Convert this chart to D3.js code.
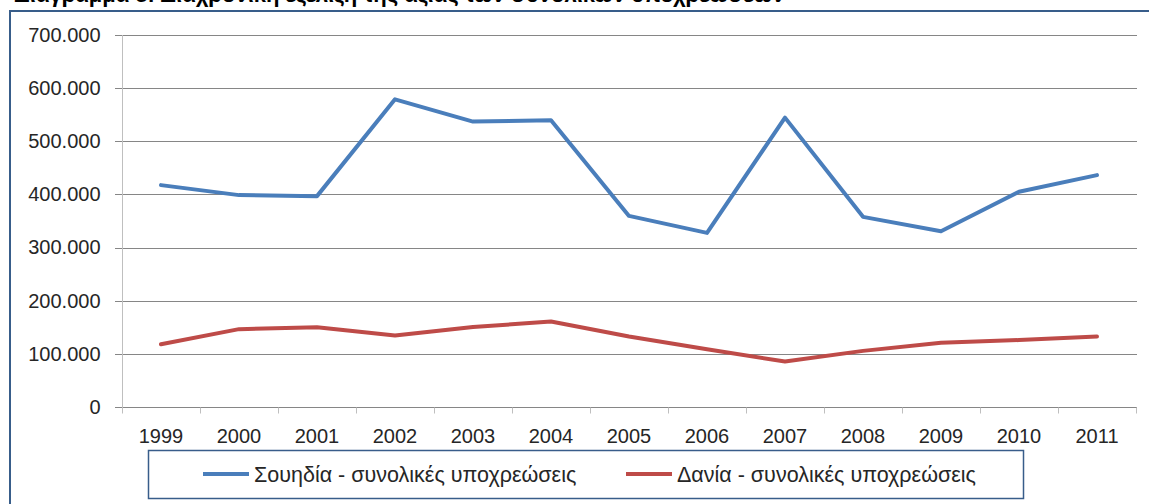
<!DOCTYPE html>
<html>
<head>
<meta charset="utf-8">
<script src="https://cdn.jsdelivr.net/npm/d3@7"></script>
<style>
  body { margin: 0; background: #fff; }
  svg { display: block; font-family: "Liberation Sans", Arial, sans-serif; }
</style>
</head>
<body>
<svg id="chart"></svg>
<script>
var years = ['1999', '2000', '2001', '2002', '2003', '2004', '2005', '2006', '2007', '2008', '2009', '2010', '2011'];
var sweden = [417500, 398700, 396800, 579000, 537000, 539600, 359600, 327600, 544500, 357800, 330700, 404900, 436400];
var denmark = [118000, 146500, 150000, 134500, 150500, 160900, 132500, 108800, 85500, 105600, 121000, 126000, 132600];
var yTicks = [0, 100000, 200000, 300000, 400000, 500000, 600000, 700000];
var seriesNames = ['Σουηδία - συνολικές υποχρεώσεις', 'Δανία - συνολικές υποχρεώσεις'];
var titleText = 'Διάγραμμα 5: Διαχρονική εξέλιξη της αξίας των συνολικών υποχρεώσεων';

var width = 1149, height = 504;
var svg = d3.select('#chart').attr('width', width).attr('height', height);

// title, mostly above the visible area like in the source
svg.append('text')
    .attr('x', 14)
    .attr('y', 2)
    .style('font-size', '22px')
    .style('font-weight', 'bold')
    .attr('fill', '#000')
    .text(titleText);

// chart frame
svg.append('rect')
    .attr('x', 10)
    .attr('y', 11)
    .attr('width', 1160)
    .attr('height', 520)
    .attr('fill', 'none')
    .attr('stroke', '#385D8A')
    .attr('stroke-width', 2);

var x = d3.scaleBand().domain(years).range([122, 1136]);
var y = d3.scaleLinear().domain([0, 700000]).range([407, 35]);

var greek = d3.formatLocale({ decimal: ',', thousands: '.', grouping: [3], currency: ['', '€'] });
var fmt = greek.format(',d');

// gridlines
svg.append('g')
    .selectAll('line')
    .data(yTicks)
    .enter()
    .append('line')
        .attr('x1', 115)
        .attr('x2', 1137)
        .attr('y1', d => Math.round(y(d)) + 0.5)
        .attr('y2', d => Math.round(y(d)) + 0.5)
        .attr('stroke', '#868686')
        .attr('stroke-width', 1);

// y axis
var yAxis = svg.append('g')
    .attr('transform', 'translate(122.5,0)')
    .call(d3.axisLeft(y).tickValues(yTicks).tickFormat(fmt).tickSize(0).tickPadding(22));
yAxis.select('.domain').remove();
yAxis.append('line')
    .attr('y1', 35).attr('y2', 413)
    .attr('stroke', '#BFBFBF');
yAxis.selectAll('text')
    .style('font-size', '20px')
    .attr('fill', '#262626')
    .attr('font-family', 'Liberation Sans, Arial, sans-serif');

// x axis
var xAxis = svg.append('g')
    .attr('transform', 'translate(0,407.5)')
    .call(d3.axisBottom(x).tickSize(0).tickPadding(21));
xAxis.select('.domain').remove();
xAxis.selectAll('text')
    .style('font-size', '20px')
    .attr('fill', '#262626')
    .attr('font-family', 'Liberation Sans, Arial, sans-serif');
var bounds = years.map(d => x(d)).concat([x.range()[1]]);
xAxis.selectAll('.bound')
    .data(bounds)
    .enter()
    .append('line')
        .classed('bound', true)
        .attr('x1', d => Math.round(d) + 0.5)
        .attr('x2', d => Math.round(d) + 0.5)
        .attr('y1', 0)
        .attr('y2', 6)
        .attr('stroke', '#BFBFBF');

// lines
var line = d3.line()
    .x((d, i) => x(years[i]) + x.bandwidth() / 2)
    .y(d => y(d));

var colors = ['#4A7EBB', '#BE4B48'];
[sweden, denmark].forEach((s, i) => {
    svg.append('path')
        .datum(s)
        .attr('d', line)
        .attr('fill', 'none')
        .attr('stroke', colors[i])
        .attr('stroke-width', 4)
        .attr('stroke-linejoin', 'round')
        .attr('stroke-linecap', 'round');
});

// legend
var legend = svg.append('g');
legend.append('rect')
    .attr('x', 148.5)
    .attr('y', 450.5)
    .attr('width', 875)
    .attr('height', 48)
    .attr('fill', '#fff')
    .attr('stroke', '#385D8A')
    .attr('stroke-width', 1.5);
var legendX = [203, 626];
seriesNames.forEach((name, i) => {
    legend.append('line')
        .attr('x1', legendX[i])
        .attr('x2', legendX[i] + 46)
        .attr('y1', 474)
        .attr('y2', 474)
        .attr('stroke', colors[i])
        .attr('stroke-width', 4);
    legend.append('text')
        .attr('x', legendX[i] + 51)
        .attr('y', 474)
        .attr('dy', '0.35em')
        .style('font-size', '21.5px')
        .attr('fill', '#262626')
        .text(name);
});
</script>
</body>
</html>
